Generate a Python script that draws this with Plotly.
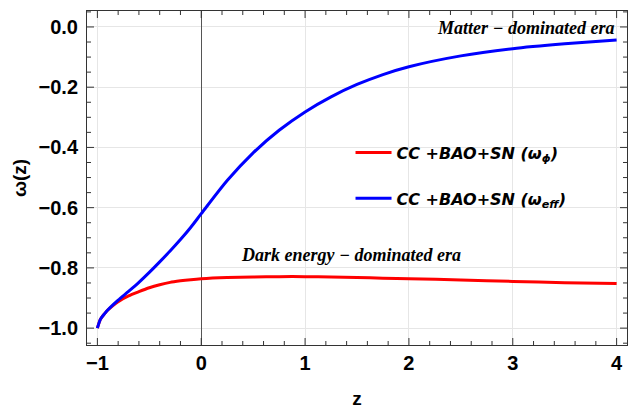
import plotly.graph_objects as go

z_vals = [-1.0, -0.97, -0.93, -0.9, -0.85, -0.8, -0.7, -0.6, -0.5, -0.4, -0.3, -0.2, -0.1,
          0.0, 0.25, 0.5, 0.75, 1.0, 1.25, 1.5, 1.75, 2.0, 2.5, 3.0, 3.5, 4.0]
w_phi = [-1.0, -0.97, -0.952, -0.94, -0.925, -0.912, -0.893, -0.879, -0.866, -0.856, -0.848,
         -0.843, -0.839, -0.836, -0.832, -0.830, -0.829, -0.829, -0.830, -0.832, -0.834,
         -0.836, -0.840, -0.845, -0.849, -0.852]
w_eff = [-1.0, -0.97, -0.952, -0.94, -0.923, -0.907, -0.878, -0.848, -0.815, -0.78, -0.744,
         -0.706, -0.665, -0.62, -0.51, -0.418, -0.343, -0.282, -0.232, -0.191, -0.158, -0.132,
         -0.096, -0.072, -0.056, -0.043]

x_tick_step = 1
y_tick_step = 0.2
x_range = [-1.1, 4.1]
y_range = [-1.056, 0.053]

legend_names = ["<b><i>CC +BAO+SN (ω<sub>ϕ</sub>)</i></b>",
                "<b><i>CC +BAO+SN (ω<sub>eff</sub>)</i></b>"]

fig = go.Figure()
fig.add_trace(go.Scatter(x=z_vals, y=w_phi, mode="lines",
                         line=dict(color="#ff0000", width=3, shape="spline", smoothing=0.7),
                         name=legend_names[0], legendgroup="a"))
fig.add_trace(go.Scatter(x=z_vals, y=w_eff, mode="lines",
                         line=dict(color="#0000ff", width=3, shape="spline", smoothing=0.7),
                         name=legend_names[1], legendgroup="b"))

tickfont = dict(family="Liberation Sans, Arial", size=20, color="black", weight="bold")

fig.update_layout(
    width=628, height=411,
    margin=dict(l=87, r=1, t=11, b=66),
    paper_bgcolor="white", plot_bgcolor="white",
    showlegend=True,
    legend=dict(x=0.488, y=0.627, xanchor="left", yanchor="top", bgcolor="rgba(0,0,0,0)",
                font=dict(family="DejaVu Sans", size=16, color="black"),
                tracegroupgap=22, itemwidth=36),
)
fig.update_xaxes(range=x_range, tickmode="linear", tick0=0, dtick=x_tick_step,
                 ticks="", showline=True, linecolor="#333", linewidth=1, mirror=True,
                 showgrid=True, gridcolor="#e6e6e6", gridwidth=1, tickfont=tickfont,
                 zeroline=True, zerolinecolor="#555", zerolinewidth=1,
                 title=dict(text="<b>z</b>", font=dict(family="Liberation Sans, Arial", size=19, color="black"),
                            standoff=18))
fig.update_yaxes(range=y_range, tickmode="linear", tick0=0, dtick=y_tick_step, tickformat=".1f",
                 ticks="", showline=True, linecolor="#333", linewidth=1, mirror=True,
                 showgrid=True, gridcolor="#e6e6e6", gridwidth=1, tickfont=tickfont,
                 zeroline=False, ticklabelstandoff=4,
                 title=dict(text="<b>ω(z)</b>", font=dict(family="Liberation Sans, Arial", size=19, color="black"),
                            standoff=6))

# frame tick marks (major + minor) on all four sides, positioned in axis units
tick_line = dict(color="#333", width=1)
n_minor_x = 5
for i in range(-5 * n_minor_x // 5 - 0, 4 * n_minor_x + 1):
    xv = i * x_tick_step / n_minor_x
    if xv < x_range[0] or xv > x_range[1]:
        continue
    ln = 7 if i % n_minor_x == 0 else 4
    fig.add_shape(type="line", xref="x", yref="paper", ysizemode="pixel", yanchor=0,
                  x0=xv, x1=xv, y0=0, y1=ln, line=tick_line)
    fig.add_shape(type="line", xref="x", yref="paper", ysizemode="pixel", yanchor=1,
                  x0=xv, x1=xv, y0=0, y1=-ln, line=tick_line)
n_minor_y = 4
for i in range(-6 * n_minor_y, n_minor_y + 1):
    yv = i * y_tick_step / n_minor_y
    if yv < y_range[0] or yv > y_range[1]:
        continue
    ln = 7 if i % n_minor_y == 0 else 4
    fig.add_shape(type="line", xref="paper", yref="y", xsizemode="pixel", xanchor=0,
                  x0=0, x1=ln, y0=yv, y1=yv, line=tick_line)
    fig.add_shape(type="line", xref="paper", yref="y", xsizemode="pixel", xanchor=1,
                  x0=0, x1=-ln, y0=yv, y1=yv, line=tick_line)

fig.add_annotation(x=3.99, y=-0.004, xref="x", yref="y", text="<b><i>Matter − dominated era</i></b>",
                   showarrow=False, xanchor="right", yanchor="middle",
                   font=dict(family="Liberation Serif", size=18, color="black"))
fig.add_annotation(x=1.445, y=-0.757, xref="x", yref="y", text="<b><i>Dark energy − dominated era</i></b>",
                   showarrow=False, xanchor="center", yanchor="middle",
                   font=dict(family="Liberation Serif", size=18, color="black"))

fig.write_html("out.html")
